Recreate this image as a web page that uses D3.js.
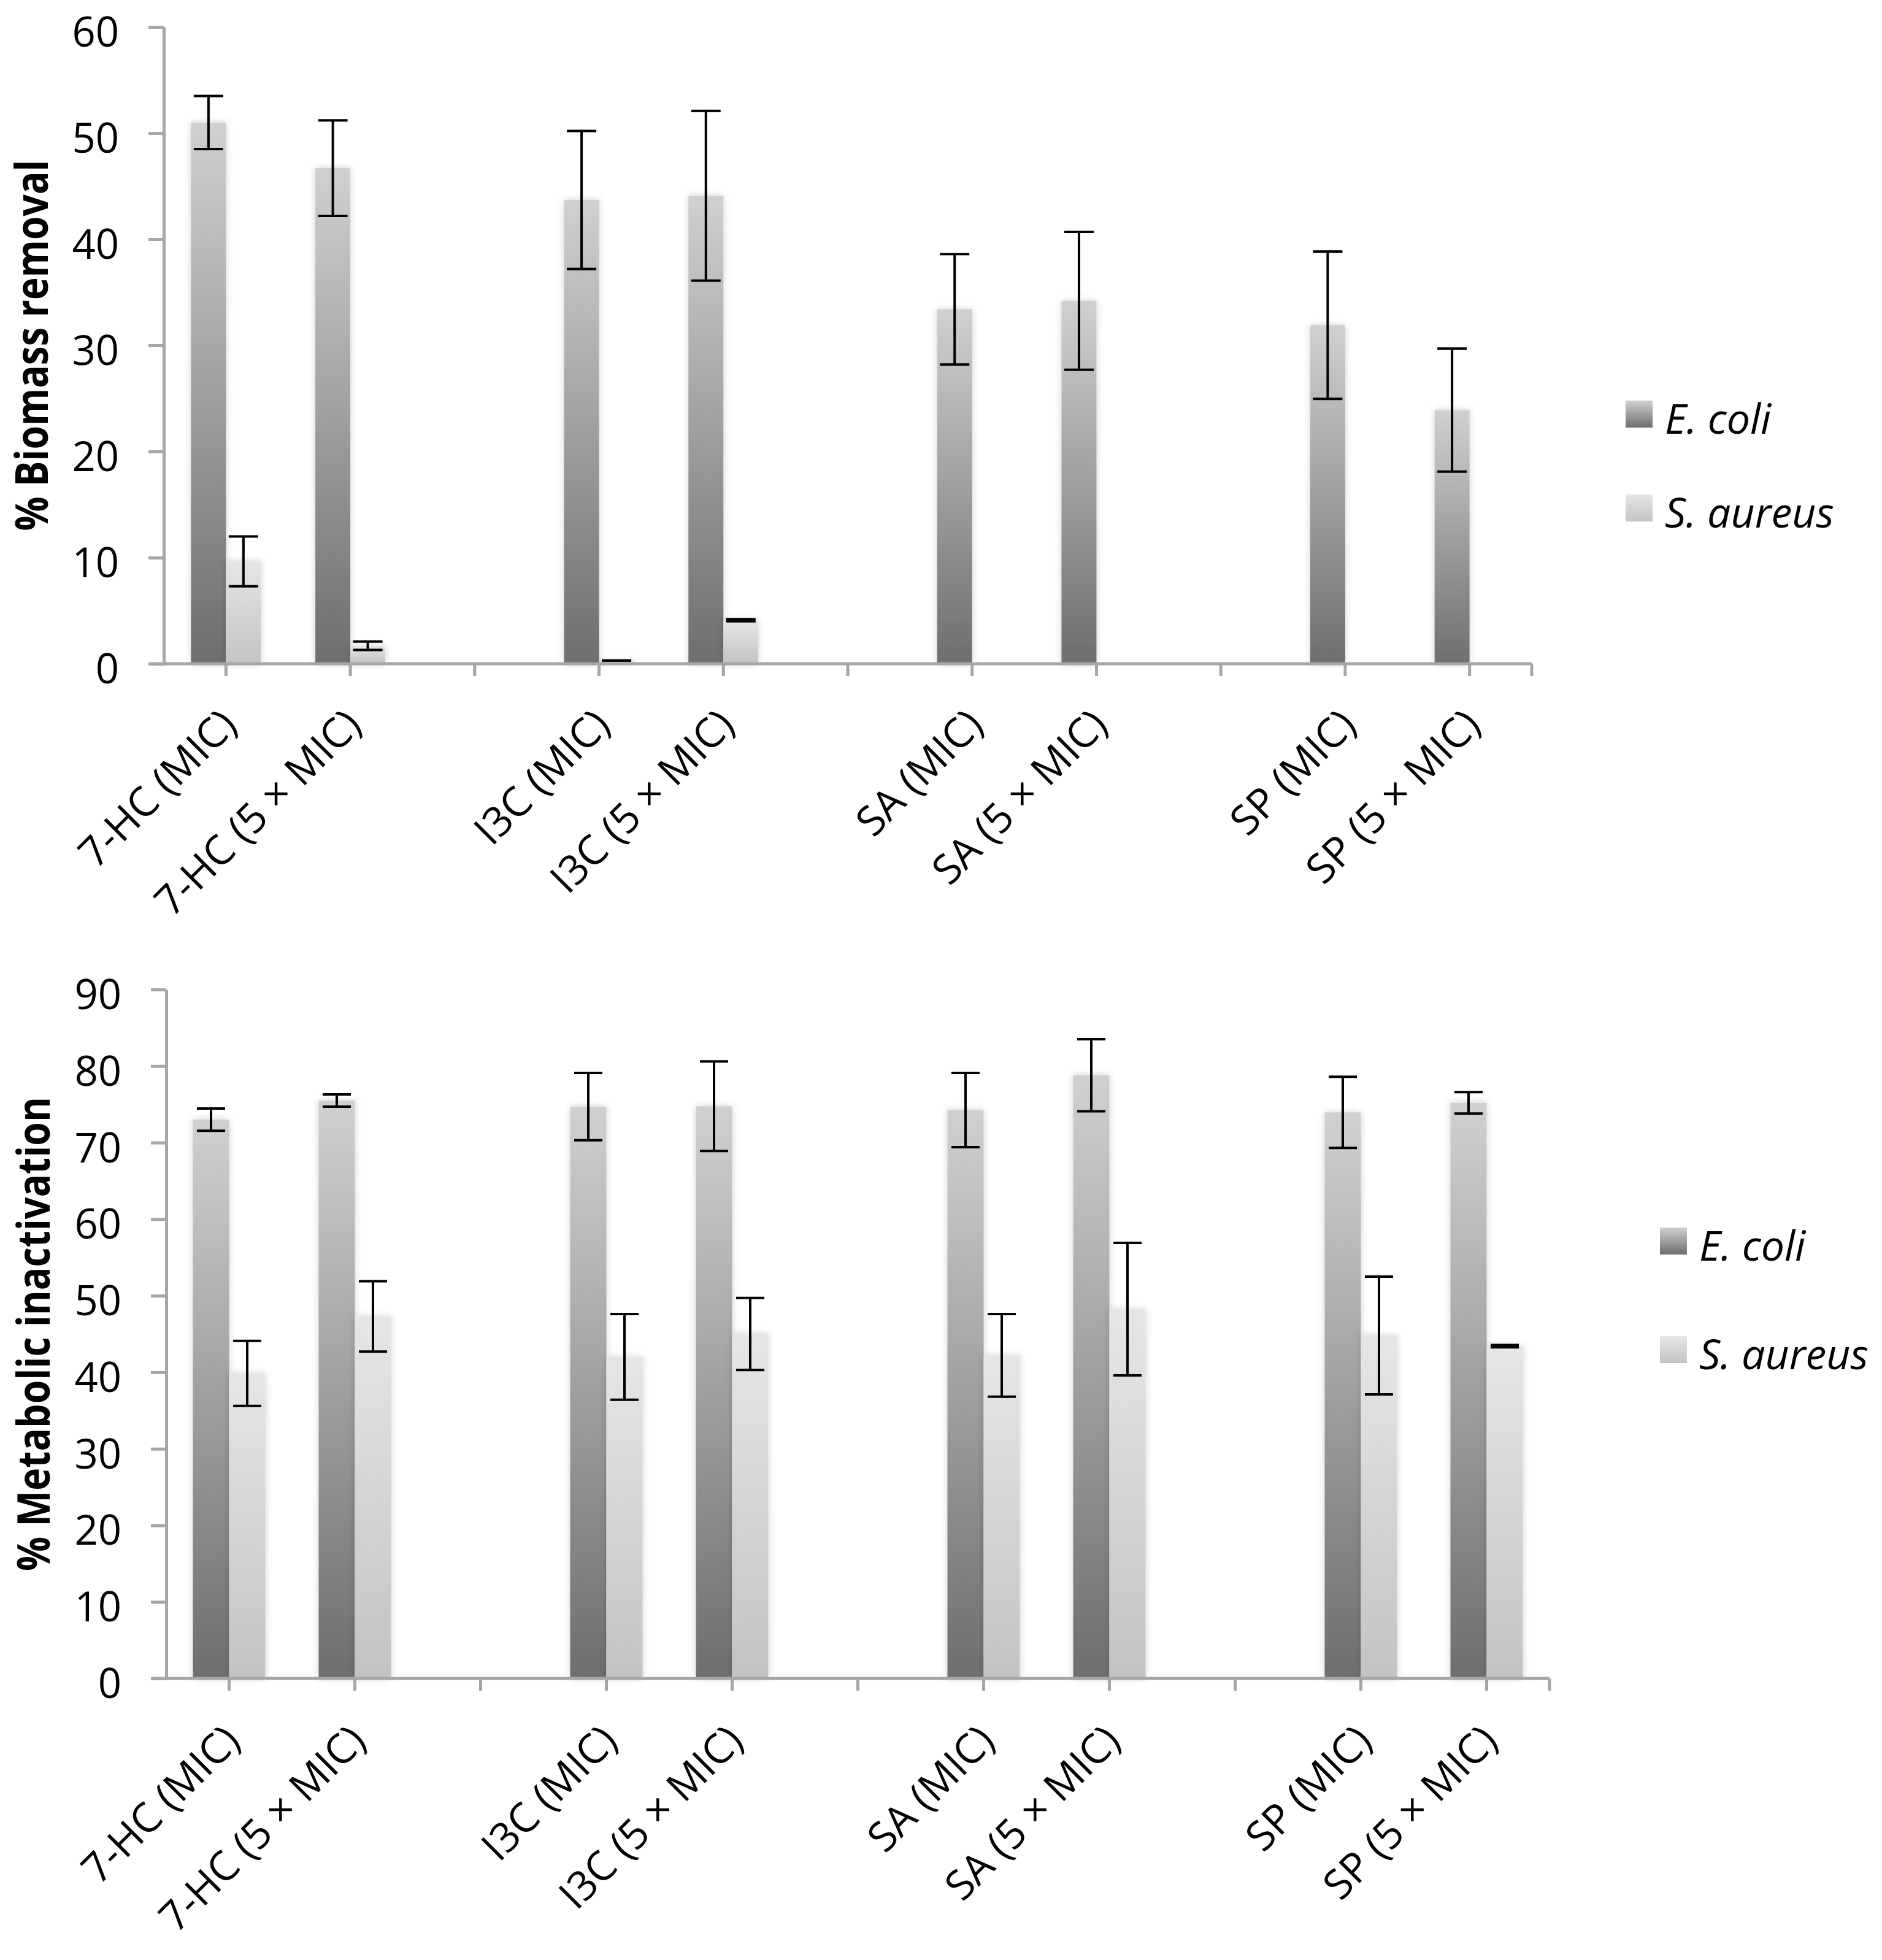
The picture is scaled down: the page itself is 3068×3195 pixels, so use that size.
<!DOCTYPE html>
<html>
<head>
  <script src="https://cdnjs.cloudflare.com/ajax/libs/d3/7.8.5/d3.min.js"></script>
  <style>
    body { margin: 0; background: #fff; }
    .tick text { font-family: "Open Sans", sans-serif; font-size: 67px; fill: #000; }
    .ytitle { font-family: "Liberation Sans Narrow", "Open Sans", sans-serif; font-weight: bold; font-size: 74px; }
    .legend text { font-family: "Open Sans", sans-serif; font-style: italic; font-size: 68px; }
  </style>
</head>
<body>
<svg id="chart" width="3068" height="3195"></svg>
<script>
// categories (blank slots separate the compound groups)
var categories = ["7-HC (MIC)", "7-HC (5 × MIC)", "", "I3C (MIC)", "I3C (5 × MIC)", "",
                  "SA (MIC)", "SA (5 × MIC)", "", "SP (MIC)", "SP (5 × MIC)"];
var seriesNames = ["E. coli", "S. aureus"];

// % biomass removal
var biomassEcoli      = [51.0, 46.7, null, 43.7, 44.1, null, 33.4, 34.2, null, 31.9, 23.9];
var biomassEcoliErr   = [2.5, 4.5, null, 6.5, 8.0, null, 5.2, 6.5, null, 6.95, 5.8];
var biomassSaureus    = [9.65, 1.7, null, 0.3, 4.1, null, 0, 0, null, 0, 0];
var biomassSaureusErr = [2.35, 0.4, null, 0, 0.1, null, null, null, null, null, null];

// % metabolic inactivation
var metabEcoli      = [73.0, 75.5, null, 74.7, 74.75, null, 74.25, 78.8, null, 73.95, 75.2];
var metabEcoliErr   = [1.45, 0.8, null, 4.4, 5.85, null, 4.85, 4.7, null, 4.65, 1.4];
var metabSaureus    = [39.85, 47.3, null, 42.0, 45.0, null, 42.2, 48.25, null, 44.8, 43.4];
var metabSaureusErr = [4.25, 4.6, null, 5.6, 4.7, null, 5.4, 8.65, null, 7.7, 0.15];

var yTicksTop = [0, 10, 20, 30, 40, 50, 60];
var yTicksBottom = [0, 10, 20, 30, 40, 50, 60, 70, 80, 90];

var svg = d3.select("#chart");
svg.append("rect").attr("width", 3068).attr("height", 3195).attr("fill", "#fff");

var defs = svg.append("defs");
var grad1 = defs.append("linearGradient").attr("id", "gEcoli")
  .attr("x1", 0).attr("y1", 0).attr("x2", 0).attr("y2", 1);
grad1.append("stop").attr("offset", "0%").attr("stop-color", "#d0d0d0");
grad1.append("stop").attr("offset", "100%").attr("stop-color", "#6e6e6e");
var grad2 = defs.append("linearGradient").attr("id", "gSaureus")
  .attr("x1", 0).attr("y1", 0).attr("x2", 0).attr("y2", 1);
grad2.append("stop").attr("offset", "0%").attr("stop-color", "#e6e6e6");
grad2.append("stop").attr("offset", "100%").attr("stop-color", "#c3c3c3");

// soft halo round the bars
var shadow = defs.append("filter").attr("id", "soft")
  .attr("x", "-40%").attr("y", "-5%").attr("width", "180%").attr("height", "110%");
shadow.append("feGaussianBlur").attr("in", "SourceAlpha").attr("stdDeviation", 6).attr("result", "blur");
shadow.append("feFlood").attr("flood-color", "#000").attr("flood-opacity", 0.18);
shadow.append("feComposite").attr("in2", "blur").attr("operator", "in").attr("result", "sh");
var merge = shadow.append("feMerge");
merge.append("feMergeNode").attr("in", "sh");
merge.append("feMergeNode").attr("in", "SourceGraphic");

var fills = ["url(#gEcoli)", "url(#gSaureus)"];

var panels = [
  { title: "% Biomass removal", titleLen: 605, titleX: 78, yMax: 60, ticks: yTicksTop,
    top: 44, bottom: 1082, left: 267, right: 2497, barW: 57, capW: 48,
    values: [biomassEcoli, biomassSaureus], errs: [biomassEcoliErr, biomassSaureusErr],
    legendX: 2650, legendY: [675, 828], labelOff: 88 },
  { title: "% Metabolic inactivation", titleLen: 773, titleX: 81, yMax: 90, ticks: yTicksBottom,
    top: 1613, bottom: 2736, left: 271, right: 2526, barW: 59, capW: 46,
    values: [metabEcoli, metabSaureus], errs: [metabEcoliErr, metabSaureusErr],
    legendX: 2706, legendY: [2023, 2200], labelOff: 90 }
];

panels.forEach(function(p) {
  var g = svg.append("g");

  var x = d3.scaleBand().domain(d3.range(categories.length)).range([p.left, p.right]);
  var xs = d3.scaleBand().domain([0, 1]).range([-p.barW, p.barW]);
  var y = d3.scaleLinear().domain([0, p.yMax]).range([p.bottom, p.top]);

  // bars
  seriesNames.forEach(function(s, si) {
    var rows = p.values[si].map(function(v, i) { return {i: i, v: v, e: p.errs[si][i]}; });

    g.append("g").attr("filter", "url(#soft)")
      .selectAll("rect")
      .data(rows.filter(function(d) { return d.v; }))
      .enter().append("rect")
      .attr("x", function(d) { return x(d.i) + x.bandwidth() / 2 + xs(si); })
      .attr("width", xs.bandwidth())
      .attr("y", function(d) { return y(d.v); })
      .attr("height", function(d) { return y(0) - y(d.v); })
      .attr("fill", fills[si]);
  });

  // error bars
  seriesNames.forEach(function(s, si) {
    var rows = p.values[si].map(function(v, i) { return {i: i, v: v, e: p.errs[si][i]}; })
      .filter(function(d) { return d.v != null && d.e != null; });
    var eb = g.append("g").selectAll("g").data(rows).enter().append("g")
      .attr("stroke", "#000").attr("stroke-width", 4);
    var cx = function(d) { return x(d.i) + x.bandwidth() / 2 + xs(si) + xs.bandwidth() / 2; };
    eb.append("line")
      .attr("x1", cx).attr("x2", cx)
      .attr("y1", function(d) { return y(d.v + d.e); })
      .attr("y2", function(d) { return y(d.v - d.e); });
    [1, -1].forEach(function(sign) {
      eb.append("line")
        .attr("x1", function(d) { return cx(d) - p.capW / 2; })
        .attr("x2", function(d) { return cx(d) + p.capW / 2; })
        .attr("y1", function(d) { return y(d.v + sign * d.e); })
        .attr("y2", function(d) { return y(d.v + sign * d.e); });
    });
  });

  // y axis
  var yAxis = g.append("g").attr("transform", "translate(" + p.left + ",0)")
    .call(d3.axisLeft(y).tickValues(p.ticks).tickSize(25).tickSizeOuter(0).tickPadding(48));
  yAxis.selectAll("path, line").attr("stroke", "#a6a6a6").attr("stroke-width", 5);
  yAxis.selectAll("text").attr("dy", "0.47em");

  // x axis
  var xAxis = g.append("g").attr("transform", "translate(0," + p.bottom + ")")
    .call(d3.axisBottom(x).tickSize(20).tickSizeOuter(0).tickFormat(function(i) { return categories[i]; }));
  xAxis.select(".domain").remove();
  xAxis.selectAll("line").attr("stroke", "#a6a6a6").attr("stroke-width", 5);
  xAxis.selectAll("text")
    .attr("text-anchor", "end")
    .attr("y", 0).attr("dy", "0.32em")
    .attr("transform", "translate(6," + p.labelOff + ") rotate(-45)");
  g.append("line").attr("x1", p.left - 25).attr("x2", p.right)
    .attr("y1", p.bottom).attr("y2", p.bottom)
    .attr("stroke", "#a6a6a6").attr("stroke-width", 5);
  g.append("line").attr("x1", p.right).attr("x2", p.right)
    .attr("y1", p.bottom).attr("y2", p.bottom + 20)
    .attr("stroke", "#a6a6a6").attr("stroke-width", 5);

  // y title
  g.append("text").attr("class", "ytitle")
    .attr("transform", "translate(" + p.titleX + "," + (p.top + p.bottom) / 2 + ") rotate(-90)")
    .attr("text-anchor", "middle")
    .attr("textLength", p.titleLen).attr("lengthAdjust", "spacingAndGlyphs")
    .text(p.title);

  // legend
  var lg = g.append("g").attr("class", "legend");
  seriesNames.forEach(function(s, si) {
    lg.append("rect").attr("x", p.legendX).attr("y", p.legendY[si] - 22)
      .attr("width", 44).attr("height", 44).attr("fill", fills[si]);
    lg.append("text").attr("x", p.legendX + 64).attr("y", p.legendY[si] + 32).text(s);
  });
});
</script>
</body>
</html>
